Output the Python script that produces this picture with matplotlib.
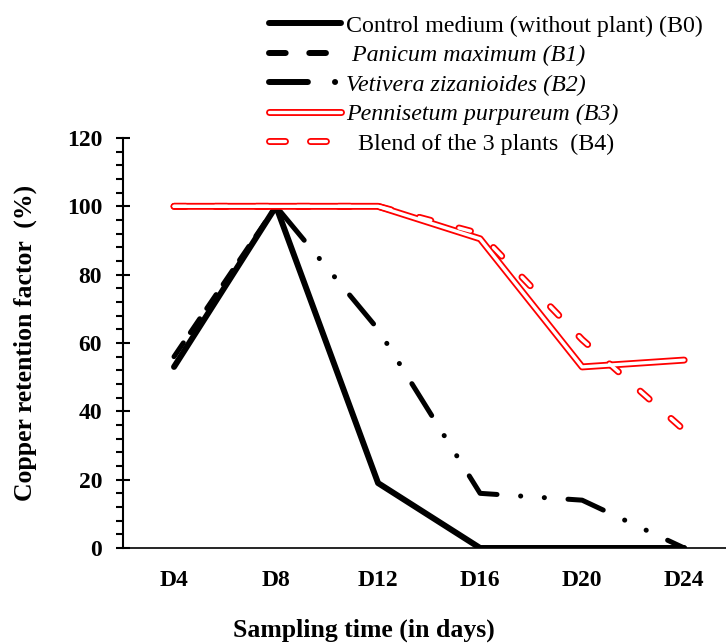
import matplotlib
matplotlib.use("Agg")
import matplotlib.pyplot as plt
import numpy as np
from matplotlib.legend_handler import HandlerTuple
from matplotlib.ticker import MultipleLocator

plt.rcParams['font.family'] = ['Liberation Serif', 'DejaVu Serif']
plt.rcParams['lines.scale_dashes'] = False

# data
days = ['D4', 'D8', 'D12', 'D16', 'D20', 'D24']
b0 = [53, 100, 19, 0, 0, 0]
b1 = [56, 100, np.nan, np.nan, np.nan, np.nan]
b2 = [100, 100, 64, 16, 14, 0]
b3 = [100, 100, 100, 90.5, 53, 55]
b4 = [100, 100, 100, 92, 61, 34.5]

labels = ['Control medium (without plant) (B0)',
          ' Panicum maximum (B1)',
          'Vetivera zizanioides (B2)',
          'Pennisetum purpureum (B3)',
          '  Blend of the 3 plants  (B4)']

x = np.arange(len(days))

fig = plt.figure(figsize=(7.26, 6.44), dpi=100)
ax = fig.add_axes([123 / 726, 96 / 644, 1 - 123 / 726, 410 / 644])

# black series
l2, = ax.plot(x, b2, color='black', lw=3.6, dash_capstyle='round',
              dashes=(27, 17, 0.1, 17, 0.1, 17), zorder=2)
l1, = ax.plot(x, b1, color='black', lw=3.6, dash_capstyle='round',
              dashes=(12, 9), zorder=3)
l0, = ax.plot(x, b0, color='black', lw=4.3, solid_capstyle='round',
              solid_joinstyle='round', zorder=3)

# red double lines: thick red with thin white core
l3a, = ax.plot(x, b3, color='red', lw=5.0, solid_capstyle='round', zorder=4)
l3b, = ax.plot(x, b3, color='white', lw=2.4, solid_capstyle='round', zorder=5)
l4a, = ax.plot(x, b4, color='red', lw=5.0, dash_capstyle='round',
               dashes=(8.6, 21), zorder=4)
l4b, = ax.plot(x, b4, color='white', lw=2.4, dash_capstyle='round',
               dashes=(8.6, 21), zorder=5)

ax.set_xlim(-0.5, 5.41)
ax.set_ylim(0, 120)
ax.set_xticks(x)
ax.set_xticklabels(days, fontsize=17, fontweight='bold')
ax.tick_params(axis='x', length=0, pad=16)
ax.yaxis.set_major_locator(MultipleLocator(20))
ax.yaxis.set_minor_locator(MultipleLocator(4))
ax.tick_params(axis='y', which='major', direction='inout', length=10, width=1.5,
               labelsize=17, pad=10)
ax.tick_params(axis='y', which='minor', direction='out', length=5, width=1.5)
for t in ax.get_yticklabels():
    t.set_fontweight('bold')
ax.spines['top'].set_visible(False)
ax.spines['right'].set_visible(False)
ax.spines['left'].set_linewidth(1.5)
ax.spines['bottom'].set_linewidth(1.2)

ax.set_ylabel('Copper retention factor  (%)', fontsize=18.5, fontweight='bold')
ax.yaxis.set_label_coords(-0.143, 0.5)
ax.set_xlabel('Sampling time (in days)', fontsize=18.5, fontweight='bold')
ax.xaxis.set_label_coords(0.40, -0.172)

# legend handles
h1, = ax.plot([], [], color='black', lw=4.3, dash_capstyle='round', dashes=(12, 17))
h2, = ax.plot([], [], color='black', lw=4.3, dash_capstyle='round',
              dashes=(28, 19.5, 0.1, 30))
h4a, = ax.plot([], [], color='red', lw=5.0, dash_capstyle='round', dashes=(11.5, 18))
h4b, = ax.plot([], [], color='white', lw=2.4, dash_capstyle='round', dashes=(11.5, 18))
handles = [l0, h1, h2, (l3a, l3b), (h4a, h4b)]
leg = fig.legend(handles, labels, loc='upper left', bbox_to_anchor=(264 / 726, 1 - 10 / 644),
                 frameon=False, fontsize=17.3, handlelength=3.0, handletextpad=0.2,
                 labelspacing=0.32, borderpad=0.2, borderaxespad=0,
                 handler_map={tuple: HandlerTuple(ndivide=1)})
for i, t in enumerate(leg.get_texts()):
    if i in (1, 2, 3):
        t.set_fontstyle('italic')

fig.savefig('out.png', dpi=100)
